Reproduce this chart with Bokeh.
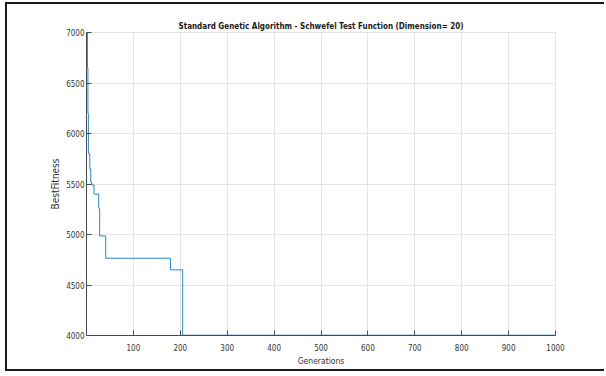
from bokeh.plotting import figure
from bokeh.models import Range1d, FixedTicker
from bokeh.embed import file_html
from bokeh.resources import INLINE

# Best fitness per generation (change points of the step curve)
generations = [1, 2, 3, 4, 7, 9, 11, 16, 26, 28, 41, 179, 205, 1000]
best_fitness = [7000, 6650, 6200, 5800, 5650, 5520, 5490, 5400, 5260, 4985, 4765, 4650, 4003, 4003]

x_ticks = [100, 200, 300, 400, 500, 600, 700, 800, 900, 1000]
y_ticks = [4000, 4500, 5000, 5500, 6000, 6500, 7000]

FONT = "'Liberation Sans Narrow', 'DejaVu Sans Condensed', sans-serif"

p = figure(width=599, height=369, output_backend="svg", toolbar_location=None,
           x_range=Range1d(0, 1000), y_range=Range1d(4000, 7000),
           min_border_left=79, min_border_right=51, min_border_top=28, min_border_bottom=38,
           title="Standard Genetic Algorithm - Schwefel Test Function (Dimension= 20)")

p.styles = {"margin-left": "5px", "margin-top": "2px",
            "border-left": "2px solid #1a1a1a", "border-top": "2px solid #1a1a1a",
            "border-bottom": "2px solid #1a1a1a"}

p.title.align = "center"
p.title.text_font = FONT
p.title.text_font_size = "8px"
p.title.text_font_style = "bold"
p.title.text_color = "#1a1a1a"
p.title.standoff = 3

p.step(generations, best_fitness, mode="after", line_color="#2f86c8", line_width=1)

p.xaxis.ticker = FixedTicker(ticks=x_ticks)
p.yaxis.ticker = FixedTicker(ticks=y_ticks)
p.xaxis.axis_label = "Generations"
p.yaxis.axis_label = "BestFitness"

for ax in (p.xaxis[0], p.yaxis[0]):
    ax.axis_line_color = "#4a4a4a"
    ax.major_tick_line_color = "#4a4a4a"
    ax.major_tick_in = 5
    ax.major_tick_out = 0
    ax.minor_tick_line_color = None
    ax.major_label_text_font = FONT
    ax.major_label_text_font_size = "8px"
    ax.major_label_text_color = "#333333"
    ax.axis_label_text_font = FONT
    ax.axis_label_text_font_style = "normal"
    ax.axis_label_text_color = "#333333"

p.xaxis.axis_label_text_font_size = "8.5px"
p.yaxis.axis_label_text_font_size = "10px"
p.xaxis.major_label_standoff = 8
p.yaxis.major_label_standoff = 2
p.xaxis.axis_label_standoff = 2
p.yaxis.axis_label_standoff = 2

p.xgrid.grid_line_color = "#e4e4e4"
p.ygrid.grid_line_color = "#e4e4e4"
p.outline_line_color = "#e4e4e4"
p.background_fill_color = "white"
p.border_fill_color = "white"

open("out.html", "w").write(file_html(p, INLINE))
